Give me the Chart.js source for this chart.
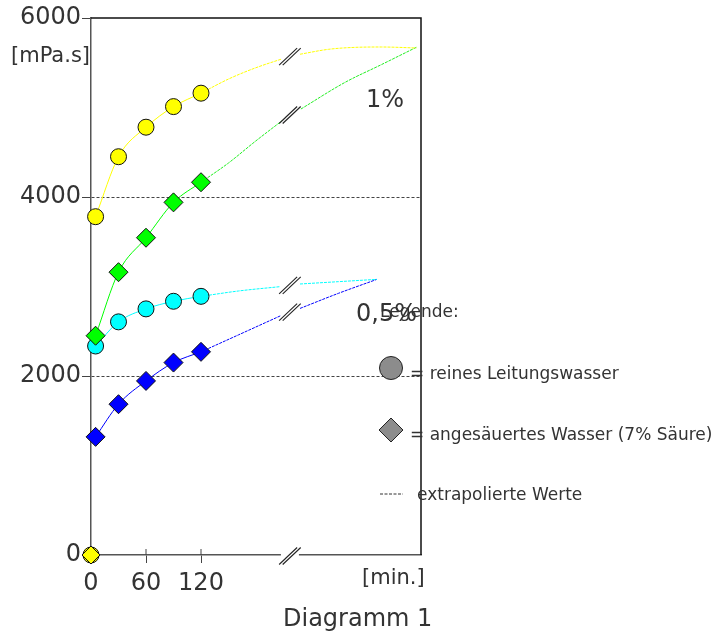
<!DOCTYPE html>
<html>
<head>
<meta charset="utf-8">
<script src="https://cdn.jsdelivr.net/npm/chart.js@4.4.0/dist/chart.umd.min.js"></script>
<style>
  html, body { margin: 0; padding: 0; background: #fff; }
</style>
</head>
<body>
<canvas id="chart" width="716" height="634"></canvas>
<script>
// measured times [min.]
const measuredTimes = [5, 30, 60, 90, 120];

// viscosity [mPa.s] - 1% solutions
const tap1 = [3780, 4450, 4780, 5010, 5160];
const acid1 = [2450, 3160, 3545, 3940, 4165];
// 0,5% solutions
const tap05 = [2335, 2605, 2750, 2835, 2890];
const acid05 = [1320, 1685, 1945, 2150, 2270];

// extrapolated curves, before and after the axis break
const tap1PreX = [120, 150, 179, 208];
const tap1PreY = [5160, 5318, 5441, 5542];
const tap1PostX = [228, 259, 288, 317, 355];
const tap1PostY = [5595, 5650, 5672, 5676, 5665];

const acid1PreX = [120, 150, 179, 208];
const acid1PreY = [4165, 4380, 4620, 4849];
const acid1PostX = [229, 277, 317, 355];
const acid1PostY = [4983, 5280, 5480, 5673];

const tap05PreX = [120, 161, 206];
const tap05PreY = [2890, 2950, 2998];
const tap05PostX = [228, 270, 312];
const tap05PostY = [3028, 3054, 3080];

const acid05PreX = [120, 161, 207];
const acid05PreY = [2270, 2460, 2674];
const acid05PostX = [228, 270, 312];
const acid05PostY = [2755, 2924, 3080];

const breakAt = 217;
const xTicks = [0, 60, 120];
const yTicks = [0, 2000, 4000, 6000];

const FONT = '"DejaVu Sans", sans-serif';
const TEXT = '#333';

const pts = (xs, ys) => xs.map((x, i) => ({ x: x, y: ys[i] }));

function measured(label, ys, color, style, r) {
  return {
    label: label,
    data: pts(measuredTimes, ys),
    borderColor: color,
    borderWidth: 1,
    backgroundColor: color,
    pointBackgroundColor: color,
    pointBorderColor: '#111',
    pointBorderWidth: 1,
    pointStyle: style,
    pointRadius: r,
    tension: 0.4,
    cubicInterpolationMode: 'monotone',
    clip: false
  };
}

function extra(xs, ys, color) {
  return {
    data: pts(xs, ys),
    borderColor: color,
    borderWidth: 1,
    borderDash: [3, 1],
    pointRadius: 0,
    tension: 0.4,
    cubicInterpolationMode: 'monotone'
  };
}

function drawBreak(ctx, cx, cy) {
  ctx.save();
  ctx.strokeStyle = '#222';
  ctx.lineWidth = 1.1;
  for (const o of [-1.8, 1.8]) {
    ctx.beginPath();
    ctx.moveTo(cx - 9 + o, cy + 8.5);
    ctx.lineTo(cx + 9 + o, cy - 8.5);
    ctx.stroke();
  }
  ctx.restore();
}

const decorations = {
  id: 'decorations',
  afterDraw(chart) {
    const { ctx, chartArea: a, scales: { x, y } } = chart;
    ctx.save();
    // frame on top and right
    ctx.strokeStyle = '#111';
    ctx.lineWidth = 1.5;
    ctx.beginPath();
    ctx.moveTo(a.left, a.top);
    ctx.lineTo(a.right, a.top);
    ctx.lineTo(a.right, a.bottom);
    ctx.stroke();

    // upward part of the x ticks
    ctx.strokeStyle = '#444';
    ctx.lineWidth = 1;
    [60, 120].forEach(v => {
      const px = x.getPixelForValue(v);
      ctx.beginPath();
      ctx.moveTo(px, a.bottom - 6);
      ctx.lineTo(px, a.bottom);
      ctx.stroke();
    });

    // axis break
    const bx = x.getPixelForValue(breakAt);
    ctx.fillStyle = '#fff';
    ctx.fillRect(bx - 9, a.bottom - 2, 18, 4);
    drawBreak(ctx, bx, a.bottom + 1);

    // curve breaks
    [[tap1PreY, tap1PostY], [acid1PreY, acid1PostY], [tap05PreY, tap05PostY], [acid05PreY, acid05PostY]].forEach(p => {
      const y1 = y.getPixelForValue(p[0][p[0].length - 1]);
      const y2 = y.getPixelForValue(p[1][0]);
      drawBreak(ctx, bx, (y1 + y2) / 2);
    });

    // texts
    ctx.fillStyle = TEXT;
    ctx.textBaseline = 'alphabetic';
    ctx.textAlign = 'left';
    ctx.font = '21px ' + FONT;
    ctx.fillText('[mPa.s]', 11, 62);
    ctx.fillText('[min.]', 362, 584);
    ctx.font = '24px ' + FONT;
    ctx.fillText('Diagramm 1', 283, 626);
    ctx.fillText('1%', 366, 107);
    ctx.fillText('0,5%', 356, 321);
    ctx.font = '17px ' + FONT;
    ctx.fillText('Legende:', 380, 317);
    ctx.fillText('= reines Leitungswasser', 410, 379);
    ctx.fillText('= angesäuertes Wasser (7% Säure)', 410, 440);
    ctx.fillText('extrapolierte Werte', 417, 500);

    // legend symbols
    ctx.fillStyle = '#8c8c8c';
    ctx.strokeStyle = '#222';
    ctx.lineWidth = 1;
    ctx.beginPath();
    ctx.arc(391, 368, 11.5, 0, Math.PI * 2);
    ctx.fill();
    ctx.stroke();
    ctx.beginPath();
    ctx.moveTo(391, 418);
    ctx.lineTo(403, 430);
    ctx.lineTo(391, 442);
    ctx.lineTo(379, 430);
    ctx.closePath();
    ctx.fill();
    ctx.stroke();
    ctx.setLineDash([3, 1.5]);
    ctx.strokeStyle = '#333';
    ctx.beginPath();
    ctx.moveTo(380, 494);
    ctx.lineTo(403, 494);
    ctx.stroke();
    ctx.restore();
  }
};

new Chart(document.getElementById('chart'), {
  type: 'line',
  data: {
    datasets: [
      {
        data: [{ x: 0, y: 0 }],
        pointStyle: 'rectRot', pointRadius: 9,
        pointBackgroundColor: '#ffff00', pointBorderColor: '#111', pointBorderWidth: 1,
        showLine: false, clip: false
      },
      {
        data: [{ x: 0, y: 0 }],
        pointStyle: 'circle', pointRadius: 8,
        pointBackgroundColor: '#ffff00', pointBorderColor: '#111', pointBorderWidth: 1,
        showLine: false, clip: false
      },
      measured('reines Leitungswasser 1%', tap1, '#ffff00', 'circle', 8),
      measured('angesäuertes Wasser 1%', acid1, '#00ff00', 'rectRot', 9.5),
      measured('reines Leitungswasser 0,5%', tap05, '#00ffff', 'circle', 8),
      measured('angesäuertes Wasser 0,5%', acid05, '#0000ff', 'rectRot', 9.5),
      extra(tap1PreX, tap1PreY, '#ffff00'),
      extra(tap1PostX, tap1PostY, '#ffff00'),
      extra(acid1PreX, acid1PreY, '#22ee22'),
      extra(acid1PostX, acid1PostY, '#22ee22'),
      extra(tap05PreX, tap05PreY, '#00ffff'),
      extra(tap05PostX, tap05PostY, '#00ffff'),
      extra(acid05PreX, acid05PreY, '#0000ff'),
      extra(acid05PostX, acid05PostY, '#0000ff')
    ]
  },
  options: {
    responsive: false,
    animation: false,
    layout: { padding: { top: 18, right: 295, left: 0, bottom: 0 } },
    plugins: { legend: { display: false }, tooltip: { enabled: false } },
    scales: {
      x: {
        type: 'linear',
        min: 0,
        max: 360,
        afterBuildTicks: s => { s.ticks = xTicks.map(v => ({ value: v })); },
        afterFit: s => { s.height = 79; },
        ticks: {
          callback: v => String(v),
          color: TEXT,
          padding: 6,
          maxRotation: 0,
          font: { family: FONT, size: 24 }
        },
        grid: {
          drawOnChartArea: false,
          tickLength: 8,
          color: c => (c.tick && c.tick.value === 0) ? 'rgba(0,0,0,0)' : '#444'
        },
        border: { color: '#555', width: 1.5 }
      },
      y: {
        min: 0,
        max: 6000,
        afterBuildTicks: s => { s.ticks = yTicks.map(v => ({ value: v })); },
        afterFit: s => { s.width = 91; },
        ticks: {
          callback: v => String(v),
          color: TEXT,
          padding: 1,
          font: { family: FONT, size: 24 }
        },
        grid: {
          tickLength: 9,
          color: c => (c.tick && (c.tick.value === 2000 || c.tick.value === 4000)) ? '#444' : 'rgba(0,0,0,0)',
          tickColor: '#444',
          lineWidth: 1
        },
        border: { color: '#555', width: 1.5, dash: [3, 2] }
      }
    }
  },
  plugins: [decorations]
});
</script>
</body>
</html>
